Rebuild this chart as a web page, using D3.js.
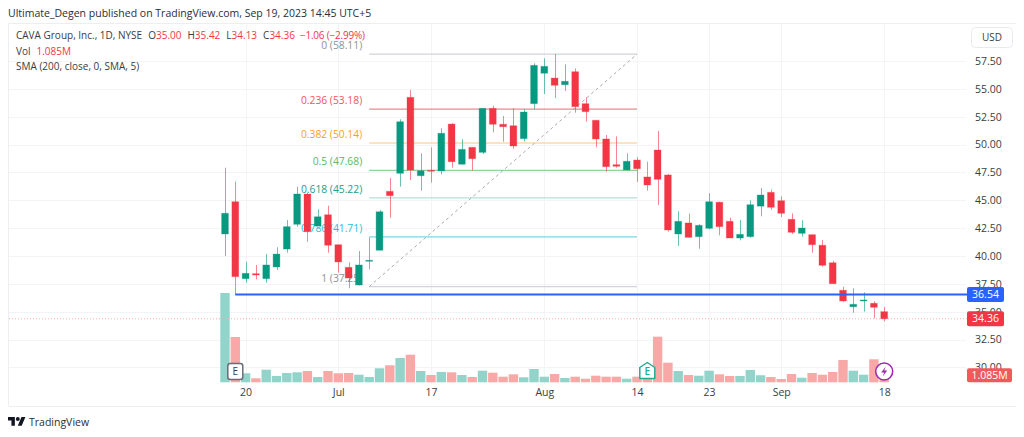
<!DOCTYPE html>
<html>
<head>
<meta charset="utf-8">
<script src="https://cdn.jsdelivr.net/npm/d3@7"></script>
<style>
  html, body { margin: 0; padding: 0; background: #fff; }
  svg { display: block; }
  text { font-family: "Open Sans", sans-serif; }
</style>
</head>
<body>
<div id="chart"></div>
<script>
const dates = [
  "Jun 15", "Jun 16", "Jun 20", "Jun 21", "Jun 22", "Jun 23", "Jun 26", "Jun 27", "Jun 28", "Jun 29", "Jun 30",
  "Jul 3", "Jul 5", "Jul 6", "Jul 7", "Jul 10", "Jul 11", "Jul 12", "Jul 13", "Jul 14", "Jul 17", "Jul 18",
  "Jul 19", "Jul 20", "Jul 21", "Jul 24", "Jul 25", "Jul 26", "Jul 27", "Jul 28", "Jul 31",
  "Aug 1", "Aug 2", "Aug 3", "Aug 4", "Aug 7", "Aug 8", "Aug 9", "Aug 10", "Aug 11", "Aug 14", "Aug 15",
  "Aug 16", "Aug 17", "Aug 18", "Aug 21", "Aug 22", "Aug 23", "Aug 24", "Aug 25", "Aug 28", "Aug 29", "Aug 30", "Aug 31",
  "Sep 1", "Sep 5", "Sep 6", "Sep 7", "Sep 8", "Sep 11", "Sep 12", "Sep 13", "Sep 14", "Sep 15", "Sep 18"
];
const opens = [
  41.97, 44.87, 37.96, 38.41, 37.96, 39.01, 40.62, 42.84, 45.56, 42.69, 43.70, 41.01, 38.98, 37.39, 39.55, 40.51,
  45.80, 47.42, 54.24, 47.20, 47.69, 47.63, 51.84, 48.23, 49.75, 49.30, 53.25, 51.82, 51.69, 50.53, 53.67, 56.40,
  55.97, 55.37, 56.54, 53.67, 52.18, 50.50, 48.19, 47.72, 48.61, 47.09, 49.51, 47.27, 41.97, 42.96, 41.73, 42.48,
  44.82, 43.11, 41.61, 41.73, 44.47, 45.71, 44.96, 43.29, 42.03, 41.91, 40.96, 39.39, 36.92, 35.44, 35.96, 35.75, 35.00
];
const closes = [
  43.83, 38.14, 38.44, 38.29, 39.19, 40.17, 42.63, 45.56, 42.18, 43.52, 40.96, 39.46, 38.02, 39.19, 39.61, 43.97,
  45.41, 52.05, 47.71, 47.65, 47.60, 51.01, 48.46, 49.57, 48.73, 53.25, 51.82, 51.60, 49.87, 52.92, 57.11, 57.02,
  55.32, 55.68, 53.40, 52.95, 50.50, 48.01, 48.05, 48.50, 47.83, 46.37, 46.88, 42.33, 43.11, 41.67, 42.75, 44.87,
  42.63, 41.61, 41.94, 44.60, 45.47, 44.37, 43.83, 42.12, 42.51, 41.01, 39.16, 37.51, 35.96, 35.66, 36.05, 35.39, 34.36
];
const highs = [
  47.92, 46.66, 39.48, 39.19, 40.17, 40.78, 43.23, 46.22, 45.65, 44.19, 44.51, 41.01, 39.43, 40.44, 41.67, 44.12,
  47.00, 52.27, 54.90, 49.21, 49.75, 51.46, 51.91, 50.47, 49.75, 53.25, 53.49, 52.56, 53.25, 53.16, 57.29, 57.74,
  58.13, 57.20, 56.84, 54.24, 52.18, 50.86, 50.74, 49.21, 48.86, 48.46, 51.22, 47.36, 44.01, 43.79, 42.84, 45.65,
  44.87, 43.43, 43.23, 45.00, 46.10, 45.95, 45.35, 43.83, 43.20, 41.91, 41.43, 39.58, 37.24, 37.10, 36.74, 35.93, 35.42
];
const lows = [
  39.99, 36.49, 37.60, 37.90, 37.60, 38.74, 40.29, 42.63, 41.28, 42.69, 40.29, 38.50, 37.10, 37.35, 38.80, 40.51,
  43.43, 46.22, 46.82, 45.86, 46.58, 47.33, 47.92, 48.23, 47.65, 49.15, 51.10, 50.26, 49.63, 50.26, 53.16, 54.54,
  54.18, 54.81, 52.86, 52.05, 49.75, 47.56, 47.92, 47.67, 46.64, 45.86, 44.57, 42.18, 40.89, 41.66, 40.65, 42.39,
  41.85, 41.61, 41.40, 41.64, 43.56, 44.15, 43.50, 41.97, 41.73, 40.29, 39.03, 37.48, 35.89, 34.90, 35.00, 34.40, 34.13
];
// volume in millions
const volumes = [
  13.84, 7.02, 1.40, 0.62, 1.95, 0.98, 1.44, 1.55, 1.75, 0.82, 1.75, 1.40, 1.44, 1.18, 0.82, 2.17,
  2.64, 3.77, 4.28, 1.75, 1.13, 1.60, 1.55, 1.13, 0.82, 1.80, 1.49, 0.87, 1.24, 0.78, 2.06, 0.87,
  1.29, 0.67, 0.87, 0.56, 1.02, 0.87, 0.87, 0.56, 0.87, 0.51, 7.07, 3.04, 1.75, 1.13, 1.02, 1.80,
  1.24, 0.98, 0.98, 1.91, 1.09, 0.82, 0.51, 1.29, 0.71, 1.44, 1.18, 1.60, 3.46, 1.80, 1.18, 3.57, 1.085
];

const priceTicks = [57.5, 55, 52.5, 50, 47.5, 45, 42.5, 40, 37.5, 35, 32.5, 30];
const timeTicks = ["Jun 20", "Jul 3", "Jul 17", "Aug 1", "Aug 14", "Aug 23", "Sep 1", "Sep 18"];
const timeLabels = ["20", "Jul", "17", "Aug", "14", "23", "Sep", "18"];

const fibRatios = ["0", "0.236", "0.382", "0.5", "0.618", "0.786", "1"];
const fibPrices = [58.11, 53.18, 50.14, 47.68, 45.22, 41.71, 37.25];
const fibText = ["#8e9199", "#f2545f", "#ff9f1a", "#5cb860", "#22a08a", "#26c0d8", "#8e9199"];
const fibLine = ["#d3d4d9", "#e98a90", "#ffd9a8", "#93d197", "#b3e0d8", "#80d5e3", "#d3d4d9"];
const fibStart = "Jul 7";
const fibEnd = "Aug 14";

const supportPrice = 36.54;
const lastPrice = 34.36;
const lastVolume = "1.085M";
const earningsDates = ["Jun 16", "Aug 15"];
const dividendDate = "Sep 18";

const up = "#089981";
const down = "#f23645";
const upVol = "#92d3ca";
const downVol = "#f9a8a8";
const grid = "#f3f4f6";
const textCol = "#3a3d45";

const width = 1024;
const height = 437;

const x = d3.scalePoint().domain(dates).range([225, 884.2]);
const y = d3.scaleLinear().domain([57.5, 30]).range([61, 367.35]);
const yVol = d3.scaleLinear().domain([0, 13.84]).range([382.3, 293]);

const svg = d3.select("#chart").append("svg").attr("width", width).attr("height", height);
svg.append("rect").attr("width", width).attr("height", height).attr("fill", "#fff");

// frame
svg.append("path")
  .attr("d", "M1016.5 23.5H8.5V406.5H1016.5")
  .attr("fill", "none")
  .attr("stroke", "#eceef2");

// grid
svg.append("g").selectAll("line").data(priceTicks).join("line")
  .attr("x1", 9).attr("x2", 966)
  .attr("y1", d => Math.round(y(d)) + 0.5).attr("y2", d => Math.round(y(d)) + 0.5)
  .attr("stroke", grid);
svg.append("g").selectAll("line").data(timeTicks).join("line")
  .attr("x1", d => Math.round(x(d)) + 0.5).attr("x2", d => Math.round(x(d)) + 0.5)
  .attr("y1", 24).attr("y2", 384)
  .attr("stroke", grid);

// volume
svg.append("g").selectAll("rect").data(dates).join("rect")
  .attr("x", d => x(d) - 4.7)
  .attr("width", 9.4)
  .attr("y", (d, i) => yVol(volumes[i]))
  .attr("height", (d, i) => yVol(0) - yVol(volumes[i]))
  .attr("fill", (d, i) => (closes[i] >= opens[i] ? upVol : downVol));

// last price dotted line
svg.append("line")
  .attr("x1", 9).attr("x2", 968)
  .attr("y1", y(lastPrice)).attr("y2", y(lastPrice))
  .attr("stroke", "#f7a9b0")
  .attr("stroke-dasharray", "1 2");

// fib retracement
const fib = svg.append("g");
fib.selectAll("line").data(fibPrices).join("line")
  .attr("x1", x(fibStart)).attr("x2", x(fibEnd))
  .attr("y1", d => y(d)).attr("y2", d => y(d))
  .attr("stroke", (d, i) => fibLine[i])
  .attr("stroke-width", 1.3);
fib.selectAll("text").data(fibPrices).join("text")
  .attr("x", x(fibStart) - 7)
  .attr("y", d => y(d) - 5)
  .attr("text-anchor", "end")
  .attr("font-size", 10.3)
  .attr("fill", (d, i) => fibText[i])
  .text((d, i) => `${fibRatios[i]} (${d3.format(".2f")(d)})`);
svg.append("line")
  .attr("x1", x(fibStart)).attr("x2", x(fibEnd))
  .attr("y1", y(fibPrices[6])).attr("y2", y(fibPrices[0]))
  .attr("stroke", "#a8aab0")
  .attr("stroke-width", 1)
  .attr("stroke-dasharray", "3 3");

// candles
const candles = svg.append("g").selectAll("g").data(dates).join("g")
  .attr("stroke", (d, i) => (closes[i] >= opens[i] ? up : down))
  .attr("fill", (d, i) => (closes[i] >= opens[i] ? up : down));
candles.append("line")
  .attr("x1", d => Math.round(x(d)) + 0.5).attr("x2", d => Math.round(x(d)) + 0.5)
  .attr("y1", (d, i) => y(highs[i])).attr("y2", (d, i) => y(lows[i]))
  .attr("stroke-opacity", 0.6);
candles.append("rect")
  .attr("x", d => x(d) - 3.4)
  .attr("width", 6.8)
  .attr("y", (d, i) => y(Math.max(opens[i], closes[i])))
  .attr("height", (d, i) => Math.max(1, Math.abs(y(opens[i]) - y(closes[i]))))
  .attr("stroke-opacity", 0.3);

// support line
svg.append("line")
  .attr("x1", x("Jun 16")).attr("x2", 968)
  .attr("y1", y(supportPrice)).attr("y2", y(supportPrice))
  .attr("stroke", "#2962ff")
  .attr("stroke-width", 2);

// price axis
const priceAxis = d3.axisRight(y)
  .tickValues(priceTicks)
  .tickFormat(d3.format(".2f"))
  .tickSize(0)
  .tickPadding(0);
svg.append("g")
  .attr("transform", "translate(975,0)")
  .call(priceAxis)
  .call(g => g.select(".domain").remove())
  .call(g => g.selectAll("text").attr("font-size", 10.5).attr("font-family", null).attr("fill", textCol));

// time axis
const timeAxis = d3.axisBottom(x)
  .tickValues(timeTicks)
  .tickFormat((d, i) => timeLabels[i])
  .tickSize(0)
  .tickPadding(0);
svg.append("g")
  .attr("transform", "translate(0,389)")
  .call(timeAxis)
  .call(g => g.select(".domain").remove())
  .call(g => g.selectAll("text").attr("font-size", 10.5).attr("font-family", null).attr("fill", textCol));

// price labels
function tag(yPos, w, h, fill, label) {
  svg.append("rect")
    .attr("x", 967).attr("y", yPos - h / 2)
    .attr("width", w).attr("height", h)
    .attr("rx", 2)
    .attr("fill", fill);
  svg.append("text")
    .attr("x", 967 + w / 2).attr("y", yPos)
    .attr("dy", "0.35em")
    .attr("text-anchor", "middle")
    .attr("font-size", 10.5)
    .attr("fill", "#fff")
    .text(label);
}
tag(y(supportPrice), 37, 15, "#2962ff", d3.format(".2f")(supportPrice));
tag(y(lastPrice), 37, 15, down, d3.format(".2f")(lastPrice));
tag(yVol(volumes[64]), 45, 14, "#f05a5a", lastVolume);

// USD button
svg.append("rect")
  .attr("x", 971.5).attr("y", 27.5)
  .attr("width", 41).attr("height", 20)
  .attr("rx", 4)
  .attr("fill", "#fff")
  .attr("stroke", "#e8eaef");
svg.append("text")
  .attr("x", 992).attr("y", 37.5)
  .attr("dy", "0.35em")
  .attr("text-anchor", "middle")
  .attr("font-size", 10)
  .attr("fill", textCol)
  .text("USD");

// earnings and dividend markers
const eY = 371.5;
svg.append("rect")
  .attr("x", x(earningsDates[0]) - 7.5).attr("y", eY - 8)
  .attr("width", 15).attr("height", 16)
  .attr("rx", 2.5)
  .attr("fill", "#fff")
  .attr("stroke", "#6a6d78")
  .attr("stroke-width", 1.5);
svg.append("text")
  .attr("x", x(earningsDates[0])).attr("y", eY)
  .attr("dy", "0.35em")
  .attr("text-anchor", "middle")
  .attr("font-size", 10)
  .attr("fill", "#3a3d45")
  .text("E");

const ex = x(earningsDates[1]);
svg.append("path")
  .attr("d", `M${ex - 7.5} ${eY - 4}L${ex} ${eY - 9}L${ex + 7.5} ${eY - 4}V${eY + 7}H${ex - 7.5}Z`)
  .attr("fill", "#fff")
  .attr("stroke", "#22ab94")
  .attr("stroke-width", 1.5)
  .attr("stroke-linejoin", "round");
svg.append("text")
  .attr("x", ex).attr("y", eY)
  .attr("dy", "0.35em")
  .attr("text-anchor", "middle")
  .attr("font-size", 10)
  .attr("font-weight", 600)
  .attr("fill", "#22ab94")
  .text("E");

const fx = x(dividendDate);
svg.append("circle")
  .attr("cx", fx).attr("cy", eY)
  .attr("r", 8.5)
  .attr("fill", "#fff")
  .attr("stroke", "#9c27b0")
  .attr("stroke-width", 1.5);
svg.append("path")
  .attr("d", `M${fx + 1.5} ${eY - 5}L${fx - 3} ${eY + 1}H${fx}L${fx - 1.5} ${eY + 5}L${fx + 3} ${eY - 1}H${fx}Z`)
  .attr("fill", "#9c27b0");

// header
svg.append("text")
  .attr("x", 8).attr("y", 16.5)
  .attr("font-size", 10.5)
  .attr("fill", "#2a2e39")
  .text("Ultimate_Degen published on TradingView.com, Sep 19, 2023 14:45 UTC+5");

// legend
const legend = svg.append("text").attr("x", 16).attr("y", 39).attr("font-size", 10).attr("fill", textCol);
legend.append("tspan").text("CAVA Group, Inc., 1D, NYSE");
const ohlcLabels = ["O", "H", "L", "C"];
const ohlcValues = [opens[64], highs[64], lows[64], closes[64]];
ohlcLabels.forEach((label, i) => {
  legend.append("tspan").attr("dx", i === 0 ? 6 : 6).text(label);
  legend.append("tspan").attr("fill", down).text(d3.format(".2f")(ohlcValues[i]));
});
legend.append("tspan").attr("dx", 5).attr("fill", down).attr("letter-spacing", -0.2).text("\u22121.06 (\u22122.99%)");

const volLegend = svg.append("text").attr("x", 16).attr("y", 54.5).attr("font-size", 10).attr("fill", textCol);
volLegend.append("tspan").text("Vol");
volLegend.append("tspan").attr("dx", 6).attr("fill", down).text(lastVolume);

svg.append("text")
  .attr("x", 16).attr("y", 69.5)
  .attr("font-size", 10)
  .attr("fill", textCol)
  .text("SMA (200, close, 0, SMA, 5)");

// TradingView logo
svg.append("g")
  .attr("transform", "translate(8,415) scale(0.49)")
  .attr("fill", "#131722")
  .call(g => g.append("path").attr("d", "M14 22H7V11H0V4h14v18zM28 22h-8l7.5-18h8L28 22z"))
  .call(g => g.append("circle").attr("cx", 20).attr("cy", 8).attr("r", 4));
svg.append("text")
  .attr("x", 29).attr("y", 426)
  .attr("font-size", 10.5)
  .attr("fill", "#2a2e39")
  .text("TradingView");
</script>
</body>
</html>
